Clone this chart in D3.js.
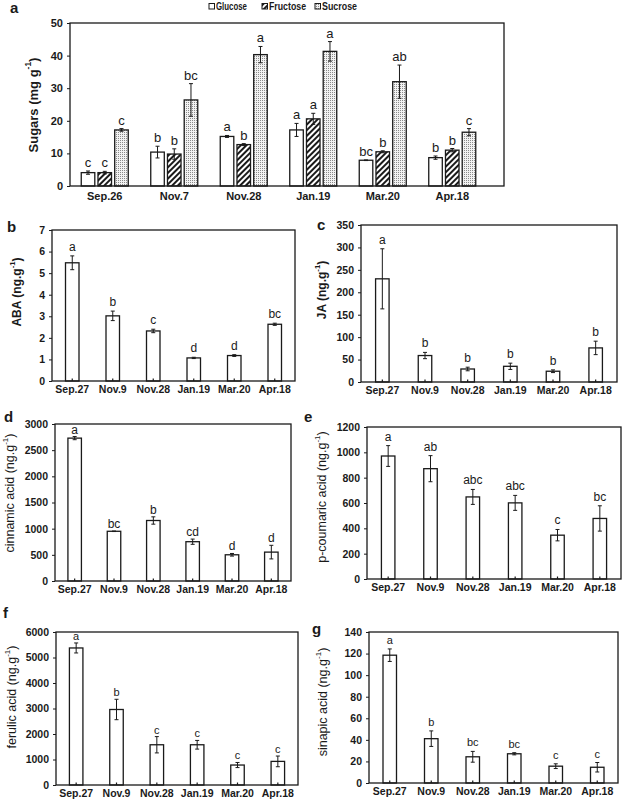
<!DOCTYPE html>
<html>
<head>
<meta charset="utf-8">
<script src="https://cdn.jsdelivr.net/npm/d3@7"></script>
<style>
  body { margin: 0; background: #fff; }
  svg { display: block; font-family: "Liberation Sans", Arial, sans-serif; }
</style>
</head>
<body>
<div id="chart"></div>
<script>
// ---- data ----
var sugarDates = ["Sep.26", "Nov.7", "Nov.28", "Jan.19", "Mar.20", "Apr.18"]
var sugarNames = ["Glucose", "Fructose", "Sucrose"]
var glucose = [4.1, 10.4, 15.2, 17.2, 7.9, 8.7]
var glucoseErr = [0.5, 1.8, 0.3, 2.0, 0.1, 0.5]
var glucoseSig = ["c", "b", "a", "a", "bc", "b"]
var fructose = [4.1, 9.8, 12.7, 20.6, 10.5, 11.0]
var fructoseErr = [0.4, 1.6, 0.3, 1.7, 0.3, 0.5]
var fructoseSig = ["c", "b", "b", "a", "b", "b"]
var sucrose = [17.2, 26.4, 40.3, 41.3, 32.0, 16.5]
var sucroseErr = [0.4, 5.0, 2.5, 3.0, 5.1, 1.1]
var sucroseSig = ["c", "bc", "a", "a", "ab", "c"]

var dates = ["Sep.27", "Nov.9", "Nov.28", "Jan.19", "Mar.20", "Apr.18"]
var aba = [5.48, 3.02, 2.32, 1.07, 1.18, 2.63]
var abaErr = [0.32, 0.22, 0.08, 0.03, 0.04, 0.05]
var abaSig = ["a", "b", "c", "d", "d", "bc"]
var ja = [230, 59, 29, 35, 24, 76]
var jaErr = [67, 7, 4, 7, 3, 15]
var jaSig = ["a", "b", "b", "b", "b", "b"]
var cinnamic = [2730, 950, 1156, 751, 501, 552]
var cinnamicErr = [30, 5, 70, 50, 25, 130]
var cinnamicSig = ["a", "bc", "b", "cd", "d", "d"]
var coumaric = [971, 871, 648, 601, 346, 478]
var coumaricErr = [82, 103, 59, 59, 45, 100]
var coumaricSig = ["a", "ab", "abc", "abc", "c", "bc"]
var ferulic = [5374, 2961, 1578, 1578, 783, 926]
var ferulicErr = [196, 400, 320, 170, 100, 210]
var ferulicSig = ["a", "b", "c", "c", "c", "c"]
var sinapic = [118.5, 41.1, 24.3, 27.1, 15.6, 14.6]
var sinapicErr = [5.8, 7.2, 5.0, 1.0, 2.2, 4.4]
var sinapicSig = ["a", "b", "bc", "bc", "c", "c"]

var W = 622, H = 801
var INK = "#1a1a1a"

var svg = d3.select("#chart").append("svg")
    .attr("width", W)
    .attr("height", H)

// fill patterns for the sugar bars
var defs = svg.append("defs")
defs.append("pattern")
    .attr("id", "hatch")
    .attr("patternUnits", "userSpaceOnUse")
    .attr("width", 4).attr("height", 4)
    .attr("patternTransform", "rotate(45)")
  .append("rect")
    .attr("width", 2).attr("height", 4)
    .attr("fill", INK)
var dots = defs.append("pattern")
    .attr("id", "dots")
    .attr("patternUnits", "userSpaceOnUse")
    .attr("width", 2).attr("height", 2)
dots.append("rect").attr("width", 2).attr("height", 2).attr("fill", "#f2f2f2")
dots.append("rect").attr("width", 1).attr("height", 1).attr("fill", "#8a8a8a")

var sugarFill = { "Glucose": "#fff", "Fructose": "url(#hatch)", "Sucrose": "url(#dots)" }

function drawPanel(p) {
    var g = svg.append("g")
    var x = d3.scaleBand().domain(p.cats).range([p.x0, p.xb || p.x1])
    var y = d3.scaleLinear().domain([0, p.max]).range([p.y1, p.y0])
    var names = p.series.map(function(s) { return s.name })
    var inner = d3.scaleBand().domain(names)
        .range(p.series.length > 1 ? [-23.5, 23.5] : [-p.bw / 2, p.bw / 2])
        .paddingInner(p.series.length > 1 ? 0.19 : 0)

    // y axis
    var yAxis = d3.axisLeft(y)
        .tickValues(d3.range(0, p.max + p.step / 2, p.step))
        .tickFormat(d3.format("d"))
        .tickSize(3).tickPadding(4)
    var ya = g.append("g").attr("transform", "translate(" + p.x0 + ",0)").call(yAxis)
    ya.select(".domain").remove()
    ya.selectAll("line").attr("stroke", INK)
    ya.selectAll("text")
        .attr("font-family", "Liberation Sans, Arial, sans-serif")
        .attr("font-weight", "bold")
        .attr("font-size", p.tickFs)
        .attr("fill", INK)

    // x axis
    var xAxis = d3.axisBottom(x).tickSize(0).tickPadding(p.xPad)
    var xa = g.append("g").attr("transform", "translate(0," + p.y1 + ")").call(xAxis)
    xa.select(".domain").remove()
    xa.selectAll("text")
        .attr("font-family", "Liberation Sans, Arial, sans-serif")
        .attr("font-weight", "bold")
        .attr("font-size", p.xFs)
        .attr("fill", INK)

    // bars, error bars and letters
    p.series.forEach(function(s) {
        var rows = p.cats.map(function(c, i) {
            return { cat: c, v: s.values[i], e: s.errs[i], sig: s.sig[i] }
        })
        var cx = function(d) { return x(d.cat) + x.bandwidth() / 2 + inner(s.name) }
        var sg = g.append("g")
        sg.selectAll("rect.bar").data(rows).enter().append("rect")
            .attr("class", "bar")
            .attr("x", cx)
            .attr("y", function(d) { return y(d.v) })
            .attr("width", inner.bandwidth())
            .attr("height", function(d) { return y(0) - y(d.v) })
            .attr("fill", s.fill)
            .attr("stroke", INK)
            .attr("stroke-width", 1.3)
        var mid = function(d) { return cx(d) + inner.bandwidth() / 2 }
        sg.selectAll("line.err").data(rows).enter().append("line")
            .attr("x1", mid).attr("x2", mid)
            .attr("y1", function(d) { return y(d.v + d.e) })
            .attr("y2", function(d) { return y(d.v - d.e) })
            .attr("stroke", INK).attr("stroke-width", 1)
        ;[1, -1].forEach(function(sign) {
            sg.selectAll("line.cap" + sign).data(rows).enter().append("line")
                .attr("x1", function(d) { return mid(d) - 2 })
                .attr("x2", function(d) { return mid(d) + 2 })
                .attr("y1", function(d) { return y(d.v + sign * d.e) })
                .attr("y2", function(d) { return y(d.v + sign * d.e) })
                .attr("stroke", INK).attr("stroke-width", 1)
        })
        sg.selectAll("text.sig").data(rows).enter().append("text")
            .attr("x", mid)
            .attr("y", function(d) { return y(d.v + d.e) - p.sigGap })
            .attr("text-anchor", "middle")
            .attr("font-size", p.sigFs)
            .attr("fill", INK)
            .text(function(d) { return d.sig })
    })

    // little inward ticks on the x axis
    if (p.xTicks) {
        g.selectAll("line.xt").data(p.cats).enter().append("line")
            .attr("x1", function(c) { return x(c) + x.bandwidth() / 2 })
            .attr("x2", function(c) { return x(c) + x.bandwidth() / 2 })
            .attr("y1", p.y1).attr("y2", p.y1 - 2.5)
            .attr("stroke", INK).attr("stroke-width", 1.2)
    }

    // frame
    g.append("rect")
        .attr("x", p.x0).attr("y", p.y0)
        .attr("width", p.x1 - p.x0).attr("height", p.y1 - p.y0)
        .attr("fill", "none").attr("stroke", INK).attr("stroke-width", 1.3)

    // y title
    var t = g.append("text")
        .attr("transform", "translate(" + p.tx + "," + p.ty + ") rotate(-90)")
        .attr("text-anchor", "middle")
        .attr("dominant-baseline", "central")
        .attr("font-size", p.tFs)
        .attr("font-weight", p.tBold ? "bold" : "normal")
        .attr("fill", INK)
    t.append("tspan").text(p.title[0])
    t.append("tspan").attr("font-size", p.tFs * 0.65).attr("dy", -p.tFs * 0.4).text(p.title[1])
    t.append("tspan").attr("dy", p.tFs * 0.4).text(p.title[2])

    // panel letter
    g.append("text")
        .attr("x", p.lx).attr("y", p.ly)
        .attr("font-size", 15).attr("font-weight", "bold")
        .attr("fill", INK)
        .text(p.letter)
}

function single(name, values, errs, sig) {
    return [{ name: name, values: values, errs: errs, sig: sig, fill: "#fff" }]
}

// panel a: sugars
drawPanel({
    letter: "a", lx: 10, ly: 13,
    cats: sugarDates, x0: 70, x1: 504, xb: 487, y0: 23, y1: 186,
    max: 50, step: 10, tickFs: 11, xFs: 11, xPad: 6, sigFs: 13, sigGap: 4,
    title: ["Sugars (mg g", "-1", ")"], tx: 33, ty: 105, tFs: 13, tBold: true,
    series: [
        { name: "Glucose", values: glucose, errs: glucoseErr, sig: glucoseSig, fill: sugarFill.Glucose },
        { name: "Fructose", values: fructose, errs: fructoseErr, sig: fructoseSig, fill: sugarFill.Fructose },
        { name: "Sucrose", values: sucrose, errs: sucroseErr, sig: sucroseSig, fill: sugarFill.Sucrose }
    ]
})

// legend for panel a
var legendX = [209, 262, 315]
sugarNames.forEach(function(n, i) {
    svg.append("rect")
        .attr("x", legendX[i]).attr("y", 3.5)
        .attr("width", 5.5).attr("height", 5.5)
        .attr("fill", sugarFill[n]).attr("stroke", INK).attr("stroke-width", 1)
    svg.append("text")
        .attr("x", legendX[i] + 7).attr("y", 10)
        .attr("font-size", 10).attr("font-weight", "bold")
        .attr("textLength", [31, 37, 35][i]).attr("lengthAdjust", "spacingAndGlyphs")
        .attr("fill", INK)
        .text(n)
})

var base = { cats: dates, bw: 13.5, tickFs: 10.5, xFs: 10.5, xPad: 4.5, sigFs: 12, sigGap: 5, xTicks: true }

drawPanel(Object.assign({}, base, {
    letter: "b", lx: 7, ly: 232,
    x0: 52, x1: 295, y0: 230, y1: 381, max: 7, step: 1,
    title: ["ABA (ng.g", "-1", ")"], tx: 17, ty: 292, tFs: 12, tBold: true,
    series: single("ABA", aba, abaErr, abaSig)
}))

drawPanel(Object.assign({}, base, {
    letter: "c", lx: 317, ly: 230,
    x0: 361, x1: 617, y0: 225, y1: 382, max: 350, step: 50,
    title: ["JA (ng.g", "-1", ")"], tx: 322, ty: 290, tFs: 12, tBold: true,
    series: single("JA", ja, jaErr, jaSig)
}))

drawPanel(Object.assign({}, base, {
    letter: "d", lx: 4, ly: 422,
    x0: 55, x1: 291, y0: 424, y1: 581, max: 3000, step: 500, sigGap: 3,
    title: ["cinnamic acid (ng.g", "-1", ")"], tx: 10, ty: 493, tFs: 12.5, tBold: false,
    series: single("cinnamic", cinnamic, cinnamicErr, cinnamicSig)
}))

drawPanel(Object.assign({}, base, {
    letter: "e", lx: 304, ly: 422,
    x0: 367, x1: 621, y0: 427, y1: 579, max: 1200, step: 200,
    title: ["p-coumaric acid (ng.g", "-1", ")"], tx: 322, ty: 497, tFs: 12.5, tBold: false,
    series: single("coumaric", coumaric, coumaricErr, coumaricSig)
}))

drawPanel(Object.assign({}, base, {
    letter: "f", lx: 3, ly: 618,
    x0: 56, x1: 298, y0: 632, y1: 785, max: 6000, step: 1000, sigFs: 11, sigGap: 3, xPad: 5,
    title: ["ferulic acid  (ng.g", "-1", ")"], tx: 12, ty: 697, tFs: 12.5, tBold: false,
    series: single("ferulic", ferulic, ferulicErr, ferulicSig)
}))

drawPanel(Object.assign({}, base, {
    letter: "g", lx: 312, ly: 634,
    x0: 369, x1: 618, y0: 632, y1: 783, max: 140, step: 20, sigFs: 11, sigGap: 5, xPad: 5,
    title: ["sinapic acid (ng.g", "-1", ")"], tx: 323, ty: 702, tFs: 12.5, tBold: false,
    series: single("sinapic", sinapic, sinapicErr, sinapicSig)
}))
</script>
</body>
</html>
